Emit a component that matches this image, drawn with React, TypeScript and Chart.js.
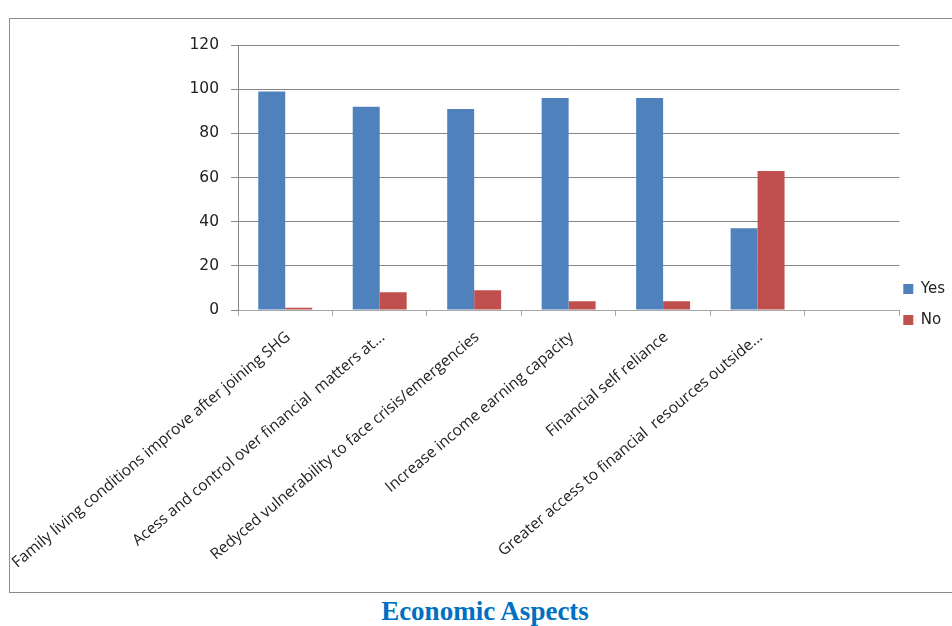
import React, { useEffect, useRef } from "react";
import { Chart, registerables } from "chart.js";

Chart.register(...registerables);

const categories = [
  "Family living conditions improve after joining SHG",
  "Acess and control over financial  matters at...",
  "Redyced vulnerability to face crisis/emergencies",
  "Increase income earning capacity",
  "Financial self reliance",
  "Greater access to financial  resources outside...",
  "",
];
const yesValues = [99, 92, 91, 96, 96, 37, null];
const noValues = [1, 8, 9, 4, 4, 63, null];
const seriesNames = ["Yes", "No"];
const yTicks = { min: 0, max: 120, step: 20 };
const chartTitle = "Economic Aspects";

const CANVAS_W = 957;
const CANVAS_H = 572;
const LEGEND_PAD = 16;
const LEGEND_FONT = 15;

export default function App() {
  const ref = useRef<HTMLCanvasElement | null>(null);

  useEffect(() => {
    if (!ref.current) return;
    const legendShift = {
      id: "legendShift",
      afterLayout(chart: any) {
        const lg = chart.legend;
        if (lg) {
          const targetLeft = chart.chartArea.right + 4 - LEGEND_PAD;
          const dx = lg.left - targetLeft;
          lg.left -= dx;
          lg.right -= dx;
          // first item text centre at canvas y = 270
          const colH = 2 * (LEGEND_FONT + LEGEND_PAD);
          const desiredCursor = 270 - LEGEND_FONT / 2;
          const cur = (lg.top + LEGEND_PAD + lg.bottom - colH) / 2;
          const dy = cur - desiredCursor;
          lg.top -= dy;
          lg.bottom -= dy;
        }
      },
    };
    const chart = new Chart(ref.current, {
      type: "bar",
      data: {
        labels: categories,
        datasets: [
          {
            label: seriesNames[0],
            data: yesValues,
            backgroundColor: "#4F81BD",
            borderWidth: 0,
            categoryPercentage: 0.571,
            barPercentage: 1,
          },
          {
            label: seriesNames[1],
            data: noValues,
            backgroundColor: "#C0504D",
            borderWidth: 0,
            categoryPercentage: 0.571,
            barPercentage: 1,
          },
        ],
      },
      options: {
        responsive: false,
        animation: false,
        layout: { padding: { top: 26, left: 0, right: 0, bottom: 0 } },
        plugins: {
          legend: {
            position: "right",
            align: "center",
            labels: {
              boxWidth: 10,
              boxHeight: 10,
              padding: LEGEND_PAD,
              color: "#222",
              font: { family: "DejaVu Sans", size: LEGEND_FONT },
            },
          },
          tooltip: { enabled: false },
        },
        scales: {
          x: {
            grid: {
              offset: true,
              drawOnChartArea: false,
              drawTicks: true,
              tickLength: 6,
              color: "#a6a6a6",
            },
            border: { color: "#a6a6a6" },
            ticks: {
              autoSkip: false,
              minRotation: 40,
              maxRotation: 40,
              padding: 12,
              labelOffset: 3,
              color: "#222",
              font: { family: "Open Sans", size: 15.5 },
            },
            afterFit(scale: any) {
              scale.height = CANVAS_H - 291;
              scale.paddingLeft = 0;
              scale.paddingRight = 0;
            },
          },
          y: {
            min: yTicks.min,
            max: yTicks.max,
            ticks: {
              stepSize: yTicks.step,
              padding: 12,
              color: "#222",
              font: { family: "DejaVu Sans", size: 15.5 },
            },
            grid: {
              color: (c: any) => (c.tick && c.tick.value === 0 ? "rgba(0,0,0,0)" : "#868686"),
              tickColor: "#868686",
              tickLength: 7,
            },
            border: { color: "#868686" },
            afterFit(scale: any) {
              scale.width = 228;
            },
          },
        },
      },
      plugins: [legendShift],
    });
    return () => chart.destroy();
  }, []);

  return (
    <div
      style={{
        position: "absolute",
        left: 0,
        top: 0,
        width: 952,
        height: 626,
        overflow: "hidden",
        background: "#fff",
      }}
    >
      <div
        style={{
          position: "absolute",
          left: 9,
          top: 18,
          width: 1000,
          height: 575,
          border: "1px solid #8c8c8c",
          boxSizing: "border-box",
        }}
      />
      <canvas
        ref={ref}
        width={CANVAS_W}
        height={CANVAS_H}
        style={{ position: "absolute", left: 10, top: 19, width: CANVAS_W, height: CANVAS_H }}
      />
      <div
        style={{
          position: "absolute",
          left: 0,
          top: 596,
          width: 970,
          textAlign: "center",
          fontFamily: "'Liberation Serif', 'Times New Roman', serif",
          fontWeight: "bold",
          fontSize: 27,
          lineHeight: "30px",
          color: "#0070C0",
        }}
      >
        {chartTitle}
      </div>
    </div>
  );
}
